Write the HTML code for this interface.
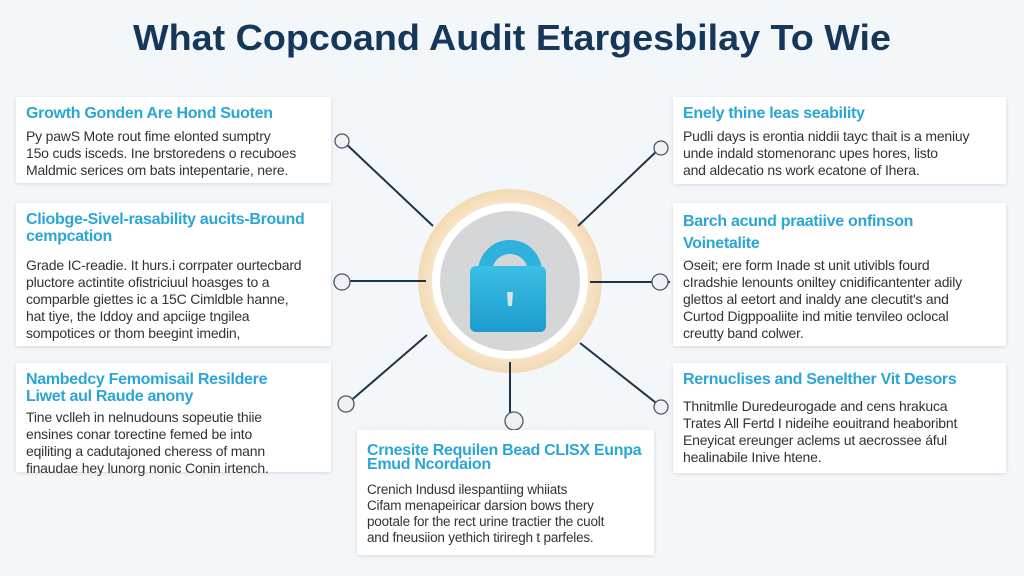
<!DOCTYPE html>
<html><head><meta charset="utf-8"><style>
body{margin:0;width:1024px;height:576px;background:#f4f7fa;position:relative;overflow:hidden;font-family:"Liberation Sans",sans-serif}
.b{position:absolute;background:#fff;box-shadow:0 1px 4px rgba(0,0,0,.12);box-sizing:border-box;padding:8px 10px}
.h{color:#2aa6d6;font-weight:bold;font-size:16px;line-height:17px;margin-bottom:6px;letter-spacing:-0.3px}
.t{color:#333;font-size:14px;line-height:17px;letter-spacing:-0.2px}
svg{position:absolute;left:0;top:0}
</style></head><body>
<svg width="1024" height="576">
<text x="512" y="50" text-anchor="middle" font-family="Liberation Sans" font-weight="bold" font-size="36" fill="#15375a" textLength="758" lengthAdjust="spacingAndGlyphs">What Copcoand Audit Etargesbilay To Wie</text>
<defs><radialGradient id="r" cx="50%" cy="50%" r="50%"><stop offset="70%" stop-color="#fbf0dc"/><stop offset="100%" stop-color="#f3d9b4"/></radialGradient>
<linearGradient id="l" x1="0" y1="0" x2="0" y2="1"><stop offset="0" stop-color="#3bbfe6"/><stop offset="1" stop-color="#1c9ccc"/></linearGradient></defs>
<circle cx="510" cy="281" r="92" fill="url(#r)"/>
<circle cx="510" cy="281" r="78" fill="#fff"/>
<circle cx="510" cy="281" r="70" fill="#d5d6d8"/>
<path d="M485 296 V272 a25 25 0 0 1 50 0 V296" fill="none" stroke="#2fb1de" stroke-width="14"/>
<rect x="470" y="266" width="76" height="66" rx="6" fill="url(#l)"/>
<path d="M507 292 h6 l-1 14 h-4z" fill="#d9e4ea"/>
<g stroke="#1f3347" stroke-width="2">
<line x1="343" y1="141" x2="433" y2="226"/><line x1="343" y1="281" x2="426" y2="281"/>
<line x1="347" y1="404" x2="427" y2="335"/><line x1="510" y1="420" x2="510" y2="362"/>
<line x1="660" y1="148" x2="578" y2="226"/><line x1="670" y1="282" x2="590" y2="282"/>
<line x1="660" y1="406" x2="580" y2="343"/></g>
<g fill="#eef2f5" stroke="#4a5866" stroke-width="1.3">
<circle cx="342" cy="141" r="7"/><circle cx="342" cy="282" r="8"/><circle cx="346" cy="404" r="8"/>
<circle cx="514" cy="421" r="9"/><circle cx="661" cy="148" r="7"/><circle cx="660" cy="282" r="8"/><circle cx="661" cy="407" r="7"/></g>
</svg>
<div class="b" style="left:16px;top:97px;width:315px;height:86px"><div class="h">Growth Gonden Are Hond Suoten</div><div class="t">Py pawS Mote rout fime elonted sumptry<br>15o cuds isceds. Ine brstoredens o recuboes<br>Maldmic serices om bats intepentarie, nere.</div></div>
<div class="b" style="left:16px;top:203px;width:315px;height:143px"><div class="h" style="margin-bottom:12px">Cliobge-Sivel-rasability aucits-Bround cempcation</div><div class="t">Grade IC-readie. It hurs.i corrpater ourtecbard<br>pluctore actintite ofistriciuul hoasges to a<br>comparble giettes ic a 15C Cimldble hanne,<br>hat tiye, the Iddoy and apciige tngilea<br>sompotices or thom beegint imedin,</div></div>
<div class="b" style="left:16px;top:363px;width:315px;height:109px"><div class="h" style="margin-bottom:4px">Nambedcy Femomisail Resildere<br>Liwet aul Raude anony</div><div class="t">Tine vclleh in nelnudouns sopeutie thiie<br>ensines conar torectine femed be into<br>eqiliting a cadutajoned cheress of mann<br>finaudae hey lunorg nonic Conin irtench.</div></div>
<div class="b" style="left:673px;top:97px;width:333px;height:87px"><div class="h">Enely thine leas seability</div><div class="t">Pudli days is erontia niddii tayc thait is a meniuy<br>unde indald stomenoranc upes hores, listo<br>and aldecatio ns work ecatone of Ihera.</div></div>
<div class="b" style="left:673px;top:203px;width:333px;height:143px"><div class="h" style="line-height:22px;margin-bottom:2px">Barch acund praatiive onfinson<br>Voinetalite</div><div class="t">Oseit; ere form Inade st unit utivibls fourd<br>cIradshie lenounts oniltey cnidificantenter adily<br>glettos al eetort and inaldy ane clecutit's and<br>Curtod Digppoaliite ind mitie tenvileo oclocal<br>creutty band colwer.</div></div>
<div class="b" style="left:673px;top:363px;width:333px;height:110px"><div class="h" style="margin-bottom:10px">Rernuclises and Senelther Vit Desors</div><div class="t">Thnitmlle Duredeurogade and cens hrakuca<br>Trates All Fertd I nideihe eouitrand heaboribnt<br>Eneyicat ereunger aclems ut aecrossee áful<br>healinabile Inive htene.</div></div>
<div class="b" style="left:357px;top:430px;width:297px;height:125px;padding-top:14px"><div class="h" style="line-height:14px;margin-bottom:10px">Crnesite Requilen Bead CLISX Eunpa Emud Ncordaion</div><div class="t" style="font-size:13.5px;line-height:16px">Crenich Indusd ilespantiing whiiats<br>Cifam menapeiricar darsion bows thery<br>pootale for the rect urine tractier the cuolt<br>and fneusiion yethich tiriregh t parfeles.</div></div>
</body></html>
